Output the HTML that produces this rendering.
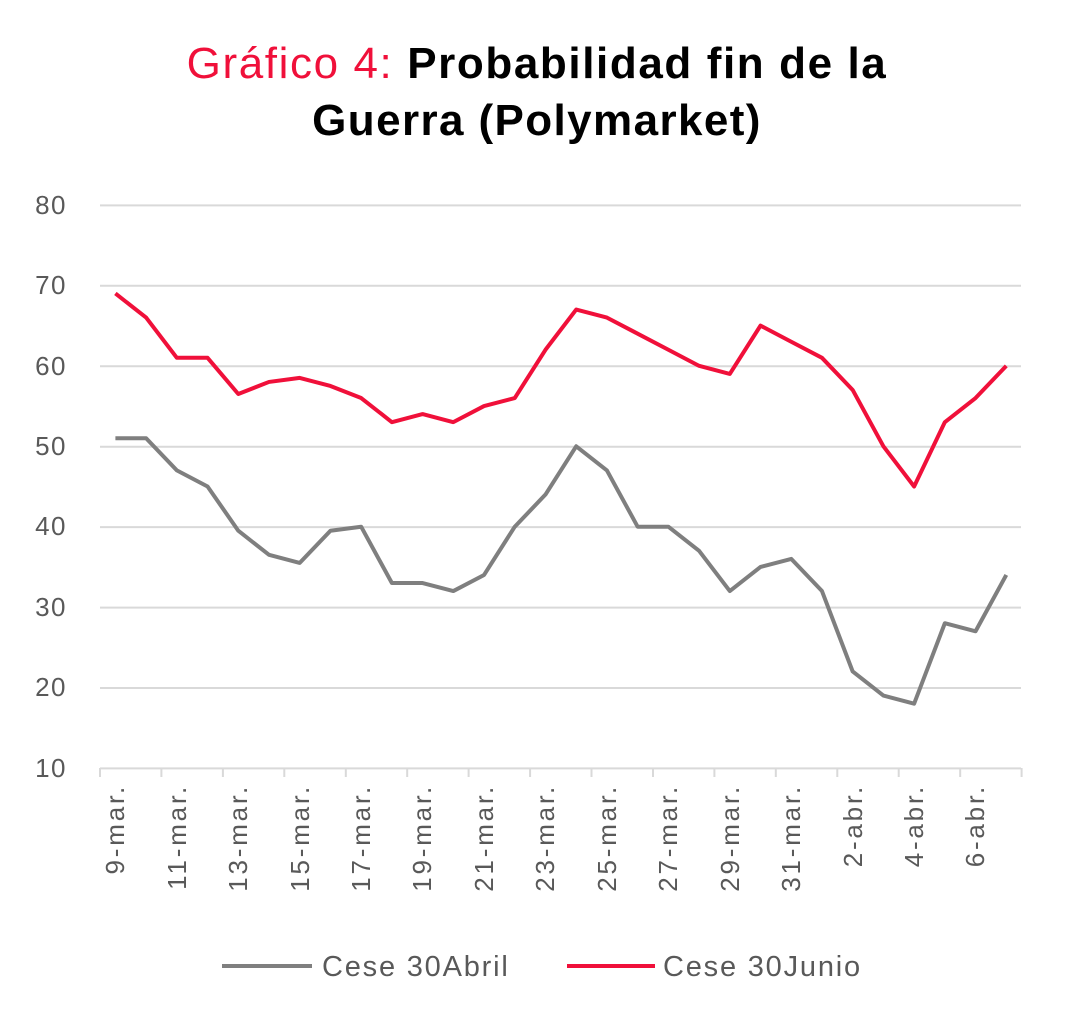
<!DOCTYPE html>
<html><head><meta charset="utf-8"><style>
body{margin:0;background:#fff;width:1072px;height:1028px;overflow:hidden}
svg text{font-family:"Liberation Sans",sans-serif}
</style></head><body>
<svg width="1072" height="1028" xmlns="http://www.w3.org/2000/svg">
<text x="537" y="78" text-anchor="middle" font-size="44" letter-spacing="1.6"><tspan fill="#f0103a">Gráfico 4:</tspan><tspan fill="#000" font-weight="bold"> Probabilidad fin de la</tspan></text>
<text x="537" y="135" text-anchor="middle" font-size="44" letter-spacing="1.4" font-weight="bold" fill="#000">Guerra (Polymarket)</text>
<g stroke="#d9d9d9" stroke-width="2">
<line x1="100" x2="1021" y1="205.4" y2="205.4"/>
<line x1="100" x2="1021" y1="285.8" y2="285.8"/>
<line x1="100" x2="1021" y1="366.3" y2="366.3"/>
<line x1="100" x2="1021" y1="446.7" y2="446.7"/>
<line x1="100" x2="1021" y1="527.1" y2="527.1"/>
<line x1="100" x2="1021" y1="607.6" y2="607.6"/>
<line x1="100" x2="1021" y1="688" y2="688"/>
<line x1="100" x2="1021" y1="768.4" y2="768.4"/>
<path d="M100,768v9M161.4,768v9M222.9,768v9M284.3,768v9M345.8,768v9M407.2,768v9M468.6,768v9M530.1,768v9M591.5,768v9M653,768v9M714.4,768v9M775.8,768v9M837.3,768v9M898.7,768v9M960.2,768v9M1021.6,768v9"/>
</g>
<g font-size="26" fill="#595959" text-anchor="end" letter-spacing="1.5">
<text x="67" y="214">80</text><text x="67" y="294">70</text><text x="67" y="375">60</text><text x="67" y="455">50</text><text x="67" y="535">40</text><text x="67" y="616">30</text><text x="67" y="696">20</text><text x="67" y="777">10</text>
</g>
<g font-size="26" fill="#595959" text-anchor="end" letter-spacing="2.8">
<text transform="translate(124,784) rotate(-90)">9-mar.</text>
<text transform="translate(186,784) rotate(-90)">11-mar.</text>
<text transform="translate(247,784) rotate(-90)">13-mar.</text>
<text transform="translate(309,784) rotate(-90)">15-mar.</text>
<text transform="translate(370,784) rotate(-90)">17-mar.</text>
<text transform="translate(431,784) rotate(-90)">19-mar.</text>
<text transform="translate(493,784) rotate(-90)">21-mar.</text>
<text transform="translate(554,784) rotate(-90)">23-mar.</text>
<text transform="translate(616,784) rotate(-90)">25-mar.</text>
<text transform="translate(677,784) rotate(-90)">27-mar.</text>
<text transform="translate(739,784) rotate(-90)">29-mar.</text>
<text transform="translate(800,784) rotate(-90)">31-mar.</text>
<text transform="translate(862,784) rotate(-90)">2-abr.</text>
<text transform="translate(923,784) rotate(-90)">4-abr.</text>
<text transform="translate(984,784) rotate(-90)">6-abr.</text>
</g>
<g transform="translate(115.4,848.43) scale(30.72,-8.043)" fill="none" stroke-linejoin="round">
<polyline vector-effect="non-scaling-stroke" stroke="#7f7f7f" stroke-width="4" points="0,51 1,51 2,47 3,45 4,39.5 5,36.5 6,35.5 7,39.5 8,40 9,33 10,33 11,32 12,34 13,40 14,44 15,50 16,47 17,40 18,40 19,37 20,32 21,35 22,36 23,32 24,22 25,19 26,18 27,28 28,27 29,34"/>
<polyline vector-effect="non-scaling-stroke" stroke="#f0103a" stroke-width="4" points="0,69 1,66 2,61 3,61 4,56.5 5,58 6,58.5 7,57.5 8,56 9,53 10,54 11,53 12,55 13,56 14,62 15,67 16,66 17,64 18,62 19,60 20,59 21,65 22,63 23,61 24,57 25,50 26,45 27,53 28,56 29,60"/>
</g>
<line x1="222" x2="312" y1="966" y2="966" stroke="#7f7f7f" stroke-width="4"/>
<text x="322" y="976" font-size="29" fill="#595959" letter-spacing="1.8">Cese 30Abril</text>
<line x1="567" x2="655" y1="966" y2="966" stroke="#f0103a" stroke-width="4"/>
<text x="663" y="976" font-size="29" fill="#595959" letter-spacing="1.8">Cese 30Junio</text>
</svg>
</body></html>
